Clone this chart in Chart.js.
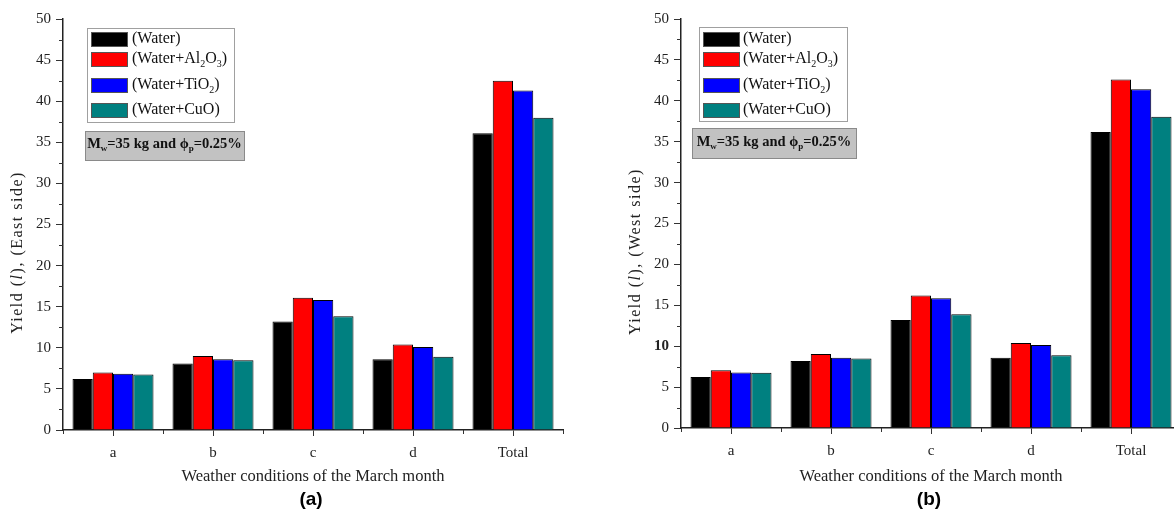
<!DOCTYPE html>
<html>
<head>
<meta charset="utf-8">
<script src="https://cdn.jsdelivr.net/npm/chart.js@4/dist/chart.umd.min.js"></script>
<style>
  html, body { margin: 0; padding: 0; background: #fff; }
  body { width: 1174px; height: 523px; overflow: hidden; position: relative; }
  canvas { position: absolute; top: 0; }
  #east { left: 0; }
  #west { left: 600px; }
  .tag { position: absolute; top: 488px; font: bold 19px "Liberation Sans", Arial, sans-serif; transform: translateX(-50%); }
</style>
</head>
<body>
<canvas id="east" width="590" height="523"></canvas>
<canvas id="west" width="600" height="523"></canvas>
<div class="tag" style="left:311px">(a)</div>
<div class="tag" style="left:929px">(b)</div>
<script>
// categories and series (yield in litres)
const categories = ['a', 'b', 'c', 'd', 'Total'];
const seriesNames = ['(Water)', '(Water+Al_2O_3)', '(Water+TiO_2)', '(Water+CuO)'];
const seriesColors = ['#000000', '#ff0000', '#0000ff', '#008080'];

const eastWater = [6.2, 8.1, 13.2, 8.6, 36.1];
const eastAl2O3 = [7.0, 9.0, 16.1, 10.4, 42.5];
const eastTiO2  = [6.85, 8.6, 15.8, 10.1, 41.3];
const eastCuO   = [6.75, 8.5, 13.85, 8.9, 38.0];

const westWater = [6.25, 8.2, 13.2, 8.6, 36.2];
const westAl2O3 = [7.05, 9.05, 16.2, 10.4, 42.6];
const westTiO2  = [6.8, 8.6, 15.85, 10.15, 41.4];
const westCuO   = [6.75, 8.5, 13.9, 8.9, 38.05];

const yTicks = [0, 5, 10, 15, 20, 25, 30, 35, 40, 45, 50];
const note = 'M_w=35 kg and ϕ_p=0.25%';

const SERIF = '"Liberation Serif", "Times New Roman", serif';

// text with "_x" subscripts
function drawRich(ctx, text, x, y, size, bold, measureOnly) {
  const parts = text.split(/_(.)/);
  let w = 0;
  parts.forEach((p, i) => {
    const sub = i % 2 === 1;
    ctx.font = (bold ? 'bold ' : '') + (sub ? Math.round(size * 0.62) : size) + 'px ' + SERIF;
    if (!measureOnly) ctx.fillText(p, x + w, y + (sub ? size * 0.32 : 0));
    w += ctx.measureText(p).width;
  });
  return w;
}

const boxLegend = {
  id: 'boxLegend',
  afterDatasetsDraw(chart, args, o) {
    const { ctx, chartArea: a } = chart;
    ctx.save();
    // legend frame
    ctx.fillStyle = '#fff';
    ctx.strokeStyle = '#a0a0a0';
    ctx.lineWidth = 1;
    ctx.fillRect(a.left + o.boxX, a.top + o.boxY, o.boxW, o.boxH);
    ctx.strokeRect(a.left + o.boxX + 0.5, a.top + o.boxY + 0.5, o.boxW, o.boxH);
    ctx.textBaseline = 'middle';
    chart.data.datasets.forEach((ds, i) => {
      const cy = a.top + o.rows[i];
      ctx.fillStyle = ds.backgroundColor;
      ctx.fillRect(a.left + o.swX, cy - 7, 36, 14);
      ctx.strokeStyle = '#555';
      ctx.strokeRect(a.left + o.swX + 0.5, cy - 7 + 0.5, 36, 14);
      ctx.fillStyle = '#111';
      drawRich(ctx, ds.label, a.left + o.textX, cy, 16, false);
    });
    // note box
    const nx = a.left + o.noteX, ny = a.top + o.noteY;
    ctx.fillStyle = '#c2c2c2';
    ctx.fillRect(nx, ny, o.noteW, o.noteH);
    ctx.strokeStyle = '#8a8a8a';
    ctx.strokeRect(nx + 0.5, ny + 0.5, o.noteW, o.noteH);
    ctx.fillStyle = '#111';
    const tw = drawRich(ctx, note, 0, 0, 14.5, true, true);
    drawRich(ctx, note, nx + (o.noteW - tw) / 2, ny + o.noteH / 2 - 1, 14.5, true);
    ctx.restore();
  }
};

// y title with italic "l" ("*l*" marks italic)
const yTitle = {
  id: 'yTitle',
  afterDraw(chart, args, o) {
    const { ctx, chartArea: a } = chart;
    const parts = o.text.split('*');
    ctx.save();
    ctx.letterSpacing = '1.5px';
    const fontOf = i => (i % 2 ? 'italic ' : '') + '16px ' + SERIF;
    let w = 0;
    parts.forEach((p, i) => { ctx.font = fontOf(i); w += ctx.measureText(p).width; });
    ctx.translate(a.left - 45, (a.top + a.bottom) / 2 + 28);
    ctx.rotate(-Math.PI / 2);
    ctx.fillStyle = '#222';
    ctx.textBaseline = 'middle';
    let x = -w / 2;
    parts.forEach((p, i) => { ctx.font = fontOf(i); ctx.fillText(p, x, 0); x += ctx.measureText(p).width; });
    ctx.restore();
  }
};

const minorTicks = {
  id: 'minorTicks',
  afterDraw(chart) {
    const { ctx, scales: { x, y }, chartArea: a } = chart;
    ctx.save();
    ctx.strokeStyle = '#333';
    ctx.lineWidth = 1;
    ctx.beginPath();
    for (let i = 0; i < yTicks.length - 1; i++) {
      const py = Math.round(y.getPixelForValue((yTicks[i] + yTicks[i + 1]) / 2)) + 0.5;
      ctx.moveTo(a.left - 4, py); ctx.lineTo(a.left, py);
    }
    for (let i = 0; i <= categories.length; i++) {
      const px = Math.round(x.getPixelForValue(i - 0.5)) + 0.5;
      ctx.moveTo(px, a.bottom); ctx.lineTo(px, a.bottom + 4);
    }
    ctx.stroke();
    ctx.restore();
  }
};

function makeChart(id, values, titleText, leftW, rightPad, bottomY, legendOpts, boldTen) {
  const cv = document.getElementById(id);
  return new Chart(cv, {
    type: 'bar',
    data: {
      labels: categories,
      datasets: values.map((v, i) => ({
        label: seriesNames[i], data: v,
        backgroundColor: seriesColors[i],
        borderColor: '#000', borderWidth: 1,
        categoryPercentage: 0.81, barPercentage: 1.0
      }))
    },
    options: {
      responsive: false, animation: false,
      layout: { padding: { top: 19, right: rightPad, left: 0, bottom: 0 } },
      plugins: { legend: { display: false }, tooltip: { enabled: false },
                 boxLegend: legendOpts, yTitle: { text: titleText } },
      scales: {
        x: {
          offset: true,
          grid: { offset: false, drawOnChartArea: false, tickLength: 6, color: '#333' },
          border: { color: '#222', width: 1.5 },
          ticks: { color: '#222', padding: 8, font: { family: SERIF, size: 15 } },
          title: { display: true, text: 'Weather conditions of the March month', color: '#222',
                   font: { family: SERIF, size: 16.5 }, padding: { bottom: 36 } },
          afterFit: s => { s.height = cv.height - bottomY; }
        },
        y: {
          min: 0, max: 50,
          afterBuildTicks: s => { s.ticks = yTicks.map(v => ({ value: v })); },
          grid: { drawOnChartArea: false, tickLength: 7, color: '#333' },
          border: { color: '#222', width: 1.5 },
          ticks: { color: '#222', padding: 5,
                   font: c => ({ family: SERIF, size: 15, weight: (boldTen && c.tick && c.tick.value === 10) ? 'bold' : 'normal' }) },
          afterFit: s => { s.width = leftW; }
        }
      }
    },
    plugins: [boxLegend, yTitle, minorTicks]
  });
}

makeChart('east', [eastWater, eastAl2O3, eastTiO2, eastCuO], 'Yield (*l*), (East side)', 63, 27, 430,
  { boxX: 24, boxY: 9, boxW: 147, boxH: 94, swX: 28, textX: 69, rows: [20, 40, 66, 91],
    noteX: 22, noteY: 112, noteW: 159, noteH: 29 }, false);

makeChart('west', [westWater, westAl2O3, westTiO2, westCuO], 'Yield (*l*), (West side)', 81, 19, 428,
  { boxX: 18, boxY: 8, boxW: 148, boxH: 94, swX: 22, textX: 62, rows: [20, 40, 66, 91],
    noteX: 11, noteY: 109, noteW: 164, noteH: 30 }, true);
</script>
</body>
</html>
